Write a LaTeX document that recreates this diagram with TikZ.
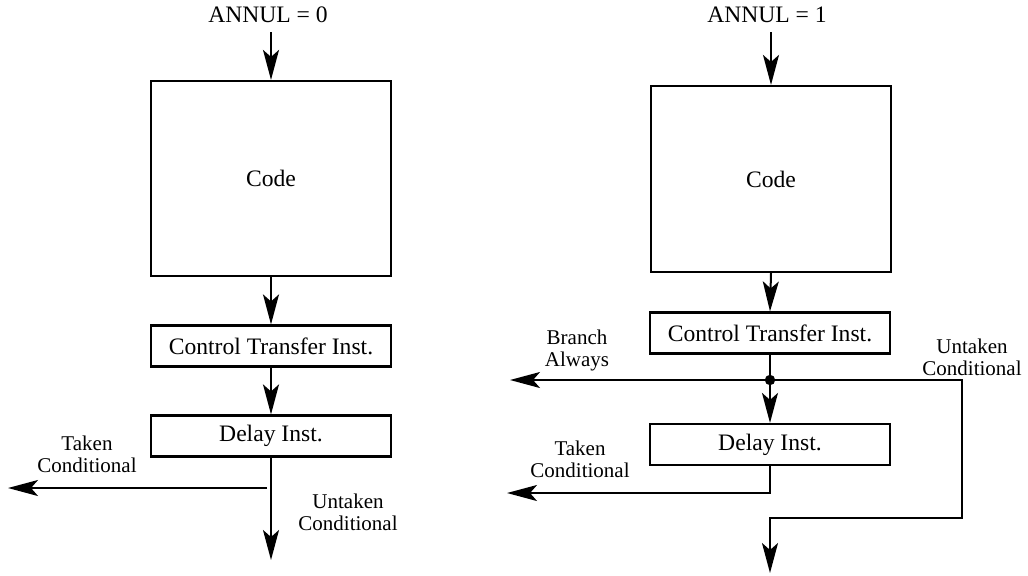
\documentclass[tikz,border=0pt]{standalone}
\usepackage{fontspec}
\setmainfont{Liberation Serif}
\usetikzlibrary{arrows.meta}
\begin{document}
\begin{tikzpicture}[x=0.5pt,y=-0.5pt,line width=1pt,
  box/.style={draw,line width=1.1pt,inner sep=0pt,minimum width=120pt,minimum height=20.5pt,font=\fontsize{11.8}{14}\selectfont},
  lbl/.style={align=center,inner sep=0pt,font=\fontsize{10.5}{11}\selectfont},
  ttl/.style={inner sep=0pt,font=\fontsize{11.8}{14}\selectfont},
  arr/.style={-{Stealth[length=15pt,width=8pt,inset=3.5pt]}}]
\useasboundingbox (0,0) rectangle (1028,575);
% left column
\node[ttl] (a0) at (268,15) {ANNUL = 0};
\coordinate (a0s) at (271,32);
\node[box,minimum height=97.5pt] (code0) at (271,178.5) {Code};
\node[box] (cti0) at (271,346) {Control Transfer Inst.};
\node[box] (delay0) at (271,436) {Delay Inst.};
\coordinate (end0) at (271,560);
\coordinate (tk0s) at (267,488);
\coordinate (tk0e) at (8,488);
\draw[arr] (a0s) -- (code0.north);
\draw[arr] (code0.south) -- (cti0.north);
\draw[arr] (cti0.south) -- (delay0.north);
\draw[arr] (delay0.south) -- (end0);
\draw[arr] (tk0s) -- (tk0e);
\node[lbl] (tl0) at (87,454) {Taken\\Conditional};
\node[lbl] (ul0) at (348,512) {Untaken\\Conditional};
% right column
\node[ttl] (a1) at (767,15) {ANNUL = 1};
\coordinate (a1s) at (771,32);
\node[box,minimum height=93pt] (code1) at (771,179) {Code};
\node[box] (cti1) at (770,333) {Control Transfer Inst.};
\node[box] (delay1) at (770,444.5) {Delay Inst.};
\coordinate (dot) at (770,380);
\coordinate (ba1) at (510,380);
\coordinate (r1) at (962,380);
\coordinate (r2) at (962,518);
\coordinate (r3) at (770,518);
\coordinate (end1) at (770,573);
\coordinate (tk1a) at (770,493);
\coordinate (tk1e) at (507,493);
\draw[arr] (a1s) -- (code1.north);
\draw[arr] (code1.south) -- (cti1.north);
\draw (cti1.south) -- (dot);
\draw[arr] (dot) -- (delay1.north);
\draw[arr] (dot) -- (ba1);
\draw[arr] (dot) -- (r1) -- (r2) -- (r3) -- (end1);
\draw[arr] (delay1.south) -- (tk1a) -- (tk1e);
\fill (dot) circle (2.6pt);
\node[lbl] (bl1) at (577,350) {Branch\\Always};
\node[lbl] (tl1) at (580,459) {Taken\\Conditional};
\node[lbl] (ul1) at (972,357) {Untaken\\Conditional};
\end{tikzpicture}
\end{document}
